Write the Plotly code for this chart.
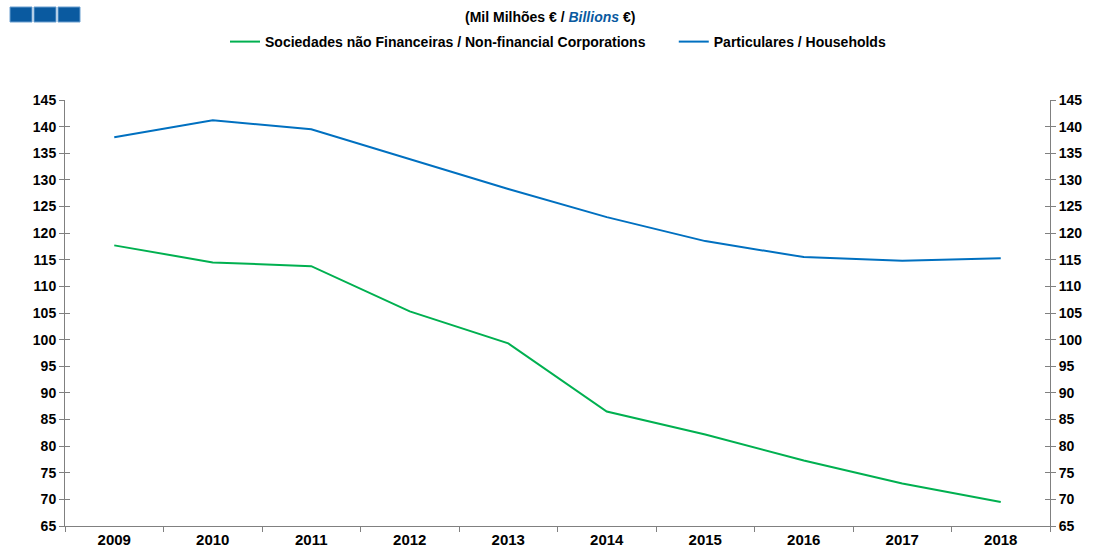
import plotly.graph_objects as go

years = ["2009", "2010", "2011", "2012", "2013", "2014", "2015", "2016", "2017", "2018"]
nfc = [117.7, 114.5, 113.8, 105.3, 99.3, 86.5, 82.2, 77.3, 73.0, 69.5]
households = [138.0, 141.2, 139.5, 133.9, 128.3, 123.0, 118.5, 115.5, 114.8, 115.3]
name_nfc = "Sociedades não Financeiras / Non-financial Corporations"
name_hh = "Particulares / Households"
y_ticks = list(range(65, 150, 5))

W, H = 1094, 552
L, R, T, B = 65, 1050, 100, 526

font = dict(family="Liberation Sans, Arial, sans-serif", size=14, color="#000000")

fig = go.Figure()
fig.add_trace(go.Scatter(x=years, y=nfc, name="<b>" + name_nfc + "</b>" + "\u00a0" * 6,
                         mode="lines", line=dict(color="#00B050", width=2)))
fig.add_trace(go.Scatter(x=years, y=households, name="<b>" + name_hh + "</b>", mode="lines",
                         line=dict(color="#0070C0", width=2)))
for ax in ["y2", "y3", "y4"]:
    fig.add_trace(go.Scatter(x=years, y=households, yaxis=ax, mode="lines",
                             line=dict(color="rgba(0,0,0,0)"), showlegend=False, hoverinfo="skip"))

yrange = [65, 145]
common_y = dict(range=yrange, tickvals=y_ticks, showgrid=False, zeroline=False,
                showline=True, linecolor="#808080", linewidth=1, tickcolor="#808080",
                ticklen=5, tickfont=dict(font, size=14), automargin=False)

def px_x(p):
    return (p - L) / (R - L)

def px_y(p):
    return (B - p) / (B - T)

fig.update_layout(
    width=W, height=H,
    margin=dict(l=L, r=W - R, t=T, b=H - B, autoexpand=False),
    paper_bgcolor="white", plot_bgcolor="white",
    font=font,
    showlegend=True,
    legend=dict(orientation="h", x=px_x(225), xanchor="left", y=px_y(42), yanchor="middle",
                font=dict(font, size=14), itemwidth=30, traceorder="normal"),
    xaxis=dict(type="category", showgrid=False, showline=True, linecolor="#808080",
               ticks="outside", tickson="boundaries", ticklen=5, tickcolor="#808080",
               tickfont=dict(font, size=15), range=[-0.5, 9.5], automargin=False,
               tickvals=years, ticktext=["<b>" + y + "</b>" for y in years]),
    yaxis=dict(common_y, ticks="outside", ticktext=["<b>%d</b>" % v for v in y_ticks]),
    yaxis2=dict(common_y, ticks="outside", side="right", overlaying="y", anchor="x",
                ticktext=["<b>%d</b>" % v for v in y_ticks]),
    yaxis3=dict(common_y, ticks="inside", overlaying="y", anchor="x", showticklabels=False),
    yaxis4=dict(common_y, ticks="inside", side="right", overlaying="y", anchor="x",
                showticklabels=False),
)

fig.add_annotation(
    text="<b>(Mil Milhões € / <i><span style='color:#0a5aa0'>Billions</span></i> €)</b>",
    xref="paper", yref="paper", x=px_x(550), y=px_y(17),
    xanchor="center", yanchor="middle", showarrow=False, font=dict(font, size=14))

for x0, x1 in [(10, 32), (34, 56), (58, 80)]:
    fig.add_shape(type="rect", xref="paper", yref="paper",
                  x0=px_x(x0), x1=px_x(x1), y0=px_y(22), y1=px_y(7),
                  fillcolor="#0a5aa0", line=dict(color="#6a9fd0", width=1))

fig.write_html("out.html", config={"displayModeBar": False},
               post_script="document.body.style.margin='0';document.body.style.overflow='hidden';")
